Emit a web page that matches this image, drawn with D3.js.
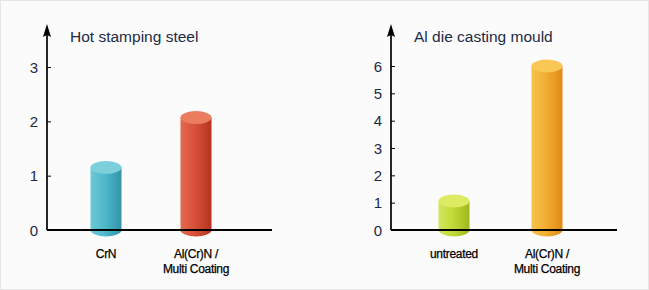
<!DOCTYPE html>
<html>
<head>
<meta charset="utf-8">
<script src="https://cdn.jsdelivr.net/npm/d3@7"></script>
<style>
  body { margin: 0; background: #fff; }
  svg { display: block; }
</style>
</head>
<body>
<div class="canvas"></div>
<script>
// data
const leftTitle = "Hot stamping steel";
const leftCategories = ["CrN", "Al(Cr)N /\nMulti Coating"];
const leftValues = [1.15, 2.07];
const leftTicks = [0, 1, 2, 3];

const rightTitle = "Al die casting mould";
const rightCategories = ["untreated", "Al(Cr)N /\nMulti Coating"];
const rightValues = [1.06, 6.0];
const rightTicks = [0, 1, 2, 3, 4, 5, 6];

const palette = [
  { left: "#6cc8d6", mid: "#4fb9cc", right: "#3494a8", top: "#7ccfdb" },
  { left: "#e36a50", mid: "#d9503a", right: "#b4341f", top: "#ea7c60" },
  { left: "#d3e65c", mid: "#c3da3a", right: "#9db81c", top: "#ddeb62" },
  { left: "#f6c24a", mid: "#f2ae34", right: "#e08a14", top: "#f8c756" }
];

const svg = d3.select(".canvas")
  .append("svg")
  .attr("width", 649)
  .attr("height", 290);

svg.append("rect")
  .attr("x", 0.5).attr("y", 0.5)
  .attr("width", 648).attr("height", 289)
  .attr("fill", "#fbfbfb")
  .attr("stroke", "#e6e6e6");

const defs = svg.append("defs");
palette.forEach((c, i) => {
  const g = defs.append("linearGradient").attr("id", "cyl" + i)
    .attr("x1", "0").attr("x2", "1").attr("y1", "0").attr("y2", "0");
  g.append("stop").attr("offset", "0").attr("stop-color", c.left);
  g.append("stop").attr("offset", "0.45").attr("stop-color", c.mid);
  g.append("stop").attr("offset", "1").attr("stop-color", c.right);
});

const drawPanel = (opt) => {
  const { x0, xEnd, yTop, yBase, yMaxPos, ticks, values, categories, title, colorIdx, barX } = opt;
  const g = svg.append("g");

  const yScale = d3.scaleLinear()
    .domain([0, d3.max(ticks)])
    .range([yBase, yMaxPos]);

  // category positions
  const xScale = d3.scalePoint()
    .domain(categories)
    .range(barX);

  // y axis line with arrow head
  g.append("line")
    .attr("x1", x0).attr("x2", x0)
    .attr("y1", yBase).attr("y2", yTop + 8)
    .attr("stroke", "#000").attr("stroke-width", 1.7);
  g.append("path")
    .attr("d", `M${x0},${yTop} L${x0 + 4},${yTop + 13} L${x0},${yTop + 11} L${x0 - 4},${yTop + 13} Z`)
    .attr("fill", "#000");

  // ticks
  const yAxis = d3.axisRight(yScale).tickValues(ticks.filter(t => t > 0)).tickSize(4).tickFormat("");
  const ag = g.append("g").attr("transform", `translate(${x0},0)`).call(yAxis);
  ag.select(".domain").remove();
  ag.selectAll(".tick line").attr("stroke", "#000").attr("stroke-width", 1);

  g.selectAll(".ylab")
    .data(ticks)
    .enter().append("text")
    .attr("class", "ylab")
    .attr("x", x0 - 13)
    .attr("y", d => yScale(d) + 5.5)
    .attr("text-anchor", "middle")
    .attr("font-family", "Liberation Sans, Arial, sans-serif")
    .attr("font-size", 15)
    .attr("fill", "#1d2a44")
    .text(d => d);

  // title
  g.append("text")
    .attr("x", x0 + 23).attr("y", 42)
    .attr("font-family", "Liberation Sans, Arial, sans-serif")
    .attr("font-size", 15.5)
    .attr("fill", "#1d2a44")
    .text(title);

  // cylinders
  const w = 31, ry = 6.5;
  categories.forEach((cat, i) => {
    const cx = xScale(cat);
    const yt = yScale(values[i]);
    const c = palette[colorIdx[i]];
    g.append("path")
      .attr("d", `M${cx - w / 2},${yt} L${cx - w / 2},${yBase} A${w / 2},${ry} 0 0 0 ${cx + w / 2},${yBase} L${cx + w / 2},${yt} Z`)
      .attr("fill", `url(#cyl${colorIdx[i]})`);
    g.append("ellipse")
      .attr("cx", cx).attr("cy", yt)
      .attr("rx", w / 2).attr("ry", ry)
      .attr("fill", c.top);
  });

  // baseline drawn over bars
  g.append("line")
    .attr("x1", x0).attr("x2", xEnd)
    .attr("y1", yBase).attr("y2", yBase)
    .attr("stroke", "#000").attr("stroke-width", 1.8);

  // category labels
  categories.forEach(cat => {
    const lines = cat.split("\n");
    const t = g.append("text")
      .attr("x", xScale(cat))
      .attr("y", 258)
      .attr("text-anchor", "middle")
      .attr("font-family", "Liberation Sans, Arial, sans-serif")
      .attr("font-size", 12)
      .attr("letter-spacing", -0.3)
      .attr("stroke", "#000")
      .attr("stroke-width", 0.25)
      .attr("fill", "#000");
    lines.forEach((l, k) => {
      t.append("tspan").attr("x", xScale(cat)).attr("dy", k === 0 ? 0 : 15).text(l);
    });
  });
};

drawPanel({
  x0: 47, xEnd: 272, yTop: 24, yBase: 230, yMaxPos: 67,
  ticks: leftTicks, values: leftValues, categories: leftCategories,
  title: leftTitle, colorIdx: [0, 1], barX: [106, 196]
});

drawPanel({
  x0: 391, xEnd: 617, yTop: 24, yBase: 230, yMaxPos: 66,
  ticks: rightTicks, values: rightValues, categories: rightCategories,
  title: rightTitle, colorIdx: [2, 3], barX: [454, 547]
});
</script>
</body>
</html>
